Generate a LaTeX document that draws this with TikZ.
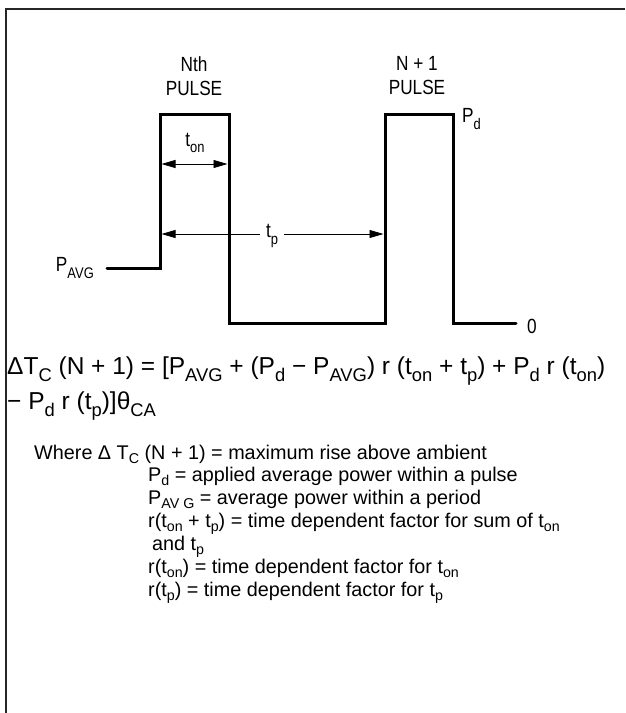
\documentclass[tikz,border=0pt]{standalone}
\usepackage{fontspec}
\usepackage{graphicx}
\setmainfont{Liberation Sans}
\newfontfamily\narrow[FakeStretch=0.84]{Liberation Sans}
\usetikzlibrary{arrows.meta}
\newcommand\sbs[1]{\raisebox{-0.3em}{\scalebox{0.75}{#1}}}
\newcommand\sbt[1]{\raisebox{-0.22em}{\scalebox{0.72}{#1}}}
\begin{document}
\begin{tikzpicture}[x=1pt,y=-1pt,
  wave/.style={line width=3pt, line join=miter, line cap=round},
  frame/.style={line width=2.5pt, draw=black!85},
  tipL/.style={{Triangle[length=14pt,width=8pt]}-},
  tipR/.style={-{Triangle[length=14pt,width=8pt]}},
  dimline/.style={line width=0.8pt},
  lbl/.style={font=\narrow\fontsize{20.5}{24}\selectfont, inner sep=0pt, align=center},
  eq/.style={font=\fontsize{24.5}{28}\selectfont, inner sep=0pt, anchor=base west},
  txt/.style={font=\fontsize{19.8}{23}\selectfont, inner sep=0pt, anchor=base west}]
\useasboundingbox (0,0) rectangle (625,713);
\coordinate (f1) at (625,9);
\coordinate (f2) at (6,9);
\coordinate (f3) at (6,713);
\draw[frame] (f1) -- (f2) -- (f3);

% waveform
\coordinate (a0) at (107,268);
\coordinate (a1) at (160,268);
\coordinate (a2) at (160,114);
\coordinate (a3) at (229,114);
\coordinate (a4) at (229,323);
\coordinate (a5) at (385,323);
\coordinate (a6) at (385,114);
\coordinate (a7) at (453,114);
\coordinate (a8) at (453,323);
\coordinate (a9) at (516,323);
\draw[wave] (a0) -- (a1) -- (a2) -- (a3) -- (a4) -- (a5) -- (a6) -- (a7) -- (a8) -- (a9);

% labels
\node[lbl] (nth) at (194,76) {Nth\\PULSE};
\node[lbl] (n1) at (417,76) {N + 1\\PULSE};
\node[lbl, anchor=west] (pd) at (462,119) {P\sbs{d}};
\node[lbl, anchor=east] (pavg) at (94,268) {P\sbs{AVG}};
\node[lbl, anchor=west] (zero) at (527,326) {0};

% t_on dimension
\node[lbl] (ton) at (195,143) {t\sbs{on}};
\coordinate (tonL) at (161.5,164);
\coordinate (tonR) at (227.5,164);
\draw[dimline, tipL] (tonL) -- (ton |- tonL);
\draw[dimline, tipR] (ton |- tonL) -- (tonR);

% t_p dimension
\node[lbl, inner xsep=6pt] (tp) at (272,236) {t\sbs{p}};
\coordinate (tpL) at (161.5,234);
\coordinate (tpR) at (383.5,234);
\draw[dimline, tipL] (tpL) -- (tp.west |- tpL);
\draw[dimline, tipR] (tp.east |- tpR) -- (tpR);

% equation
\node[eq] (eq1) at (7,374) {ΔT\sbs{C} (N + 1) = [P\sbs{AVG} + (P\sbs{d} − P\sbs{AVG}) r (t\sbs{on} + t\sbs{p}) + P\sbs{d} r (t\sbs{on})};
\node[eq] (eq2) at (7,409) {− P\sbs{d} r (t\sbs{p})]θ\sbs{CA}};

% explanation
\node[txt] (w0) at (34,459) {Where Δ T\sbt{C} (N + 1) = maximum rise above ambient};
\node[txt] (w1) at (148,481) {P\sbt{d} = applied average power within a pulse};
\node[txt] (w2) at (148,504) {P\sbt{AV G} = average power within a period};
\node[txt] (w3) at (148,527) {r(t\sbt{on} + t\sbt{p}) = time dependent factor for sum of t\sbt{on}};
\node[txt] (w4) at (152,550) {and t\sbt{p}};
\node[txt] (w5) at (148,573) {r(t\sbt{on}) = time dependent factor for t\sbt{on}};
\node[txt] (w6) at (148,596) {r(t\sbt{p}) = time dependent factor for t\sbt{p}};
\end{tikzpicture}
\end{document}
